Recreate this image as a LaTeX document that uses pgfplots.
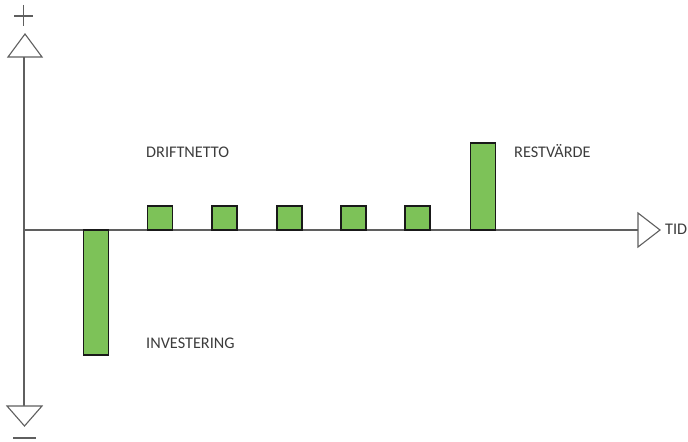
\documentclass[border=0pt]{standalone}
\usepackage{pgfplots}
\pgfplotsset{compat=1.18}
\usepackage{fontspec}
\setmainfont{Carlito}
\definecolor{barg}{RGB}{125,194,88}
\definecolor{axg}{RGB}{95,95,95}
\definecolor{txt}{RGB}{60,60,60}
\begin{document}
\begin{tikzpicture}
\begin{axis}[
  width=688bp, height=442bp, scale only axis,
  xmin=0, xmax=688, ymin=-212, ymax=230,
  hide axis, clip=false,
]
\path (axis cs:0,-212) rectangle (axis cs:688,230);
% axes
\addplot[axg, line width=1.1bp, no marks] coordinates {(24,173) (24,-176)};
\addplot[axg, line width=1.1bp, no marks] coordinates {(24,0) (638,0)};
% arrow heads
\addplot[axg, fill=white, line width=1.1bp, no marks] coordinates {(8,173) (42,173) (25,196)} -- cycle;
\addplot[axg, fill=white, line width=1.1bp, no marks] coordinates {(7,-176) (42,-176) (24.5,-196)} -- cycle;
\addplot[axg, fill=white, line width=1.1bp, no marks] coordinates {(638,17) (638,-17) (660,0)} -- cycle;
% plus and minus
\addplot[axg, line width=1.3bp, no marks] coordinates {(14,214) (33,214)};
\addplot[axg, line width=1.3bp, no marks] coordinates {(23.5,225) (23.5,204)};
\addplot[axg, line width=1.6bp, no marks] coordinates {(13,-208) (36,-208)};
% bars
\addplot[ybar, bar width=25, fill=barg, draw=black!90, line width=1.4bp]
  coordinates {(96,-125) (160,24) (224.5,24) (289.5,24) (353.5,24) (417.5,24) (483,87)};
% labels
\node[anchor=west, inner sep=0pt, text=txt, font=\fontsize{16.3}{17}\selectfont] at (axis cs:146,78) {DRIFTNETTO};
\node[anchor=west, inner sep=0pt, text=txt, font=\fontsize{16.3}{17}\selectfont] at (axis cs:514,79) {RESTVÄRDE};
\node[anchor=west, inner sep=0pt, text=txt, font=\fontsize{16.3}{17}\selectfont] at (axis cs:146,-113) {INVESTERING};
\node[anchor=west, inner sep=0pt, text=txt, font=\fontsize{16.3}{17}\selectfont] at (axis cs:665,1) {TID};
\end{axis}
\end{tikzpicture}
\end{document}
